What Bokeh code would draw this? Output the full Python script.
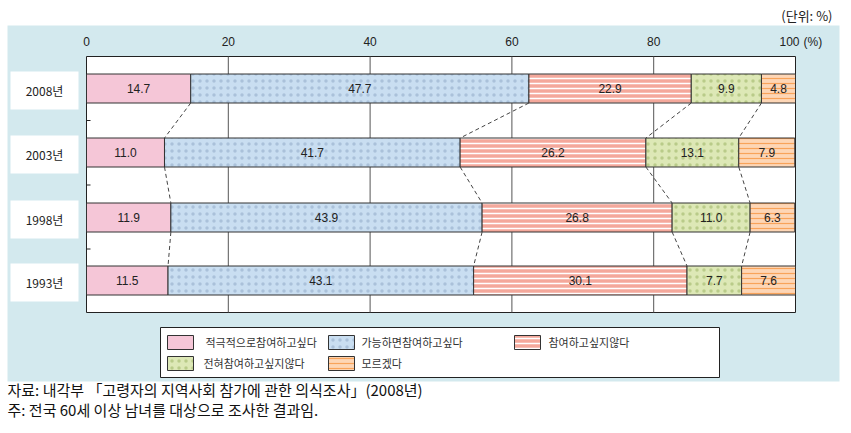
from bokeh.plotting import figure
from bokeh.models import Range1d, ColumnDataSource
from bokeh.core.properties import value
from bokeh.embed import file_html
from bokeh.resources import INLINE

# ---------------- data ----------------
years = ["2008년", "2003년", "1998년", "1993년"]
series_names = ["적극적으로참여하고싶다", "가능하면참여하고싶다", "참여하고싶지않다",
                "전혀참여하고싶지않다", "모르겠다"]
s_active = [14.7, 11.0, 11.9, 11.5]
s_possible = [47.7, 41.7, 43.9, 43.1]
s_not = [22.9, 26.2, 26.8, 30.1]
s_never = [9.9, 13.1, 11.0, 7.7]
s_unknown = [4.8, 7.9, 6.3, 7.6]
x_ticks = [0, 20, 40, 60, 80, 100]
unit_text = "(단위: %)"
notes = ["자료: 내각부 「고령자의 지역사회 참가에 관한 의식조사」(2008년)",
         "주: 전국 60세 이상 남녀를 대상으로 조사한 결과임."]

# ---------------- styles ----------------
W, H = 851, 433
X0_PX, X100_PX = 86, 795
SC = (X100_PX - X0_PX) / 100.0


def px2x(px):
    return (px - X0_PX) / SC


styles = [
    dict(fill_color="#F5C6D7"),
    dict(fill_color="#C9DEF1", hatch_pattern="dot", hatch_color="#8FAAC6", hatch_scale=7, hatch_weight=0.5, hatch_alpha=0.55),
    dict(fill_color="#F4A89B", hatch_pattern="horizontal_line", hatch_color="#FFFFFF", hatch_scale=5, hatch_weight=1.5),
    dict(fill_color="#DDE8B6", hatch_pattern="dot", hatch_color="#9BB265", hatch_scale=7, hatch_weight=0.5, hatch_alpha=0.55),
    dict(fill_color="#FDD6B6", hatch_pattern="horizontal_line", hatch_color="#F8A35A", hatch_scale=5, hatch_weight=1.2),
]

FONT = value("Noto Sans CJK KR")
NUMFONT = value("Liberation Sans")

p = figure(width=W, height=H, output_backend="svg", toolbar_location=None,
           x_range=Range1d(px2x(0), px2x(W)), y_range=Range1d(H, 0),
           min_border=0, min_border_left=0, min_border_right=0,
           min_border_top=0, min_border_bottom=0)
p.axis.visible = False
p.grid.visible = False
p.outline_line_color = None
p.background_fill_color = "white"
p.border_fill_color = "white"

# panel
p.quad(left=[px2x(7)], right=[px2x(839)], top=[25], bottom=[381],
       fill_color="#D3E9EE", line_color=None)

# plot area
TOP, BOT = 56, 312
p.quad(left=[0], right=[100], top=[TOP], bottom=[BOT], fill_color="white",
       line_color="#222222", line_width=1)
grid_x = [t for t in x_ticks if 0 < t < 100]
p.segment(x0=grid_x, x1=grid_x, y0=[TOP] * len(grid_x), y1=[BOT] * len(grid_x),
          line_color="#555555", line_width=1)

# rows
centers = [88, 152, 217, 280]
BH = 29
mids = [(centers[i] + centers[i + 1]) / 2 for i in range(len(centers) - 1)]
p.segment(x0=[0] * len(mids), x1=[px2x(X0_PX + 4)] * len(mids), y0=mids, y1=mids,
          line_color="#222222", line_width=1)

# tick labels on top
p.text(x=x_ticks[:-1], y=[41] * (len(x_ticks) - 1), text=[str(t) for t in x_ticks[:-1]],
       text_font=NUMFONT, text_font_size="12px", text_align="center",
       text_baseline="middle", text_color="#222222")
p.text(x=[x_ticks[-1]], y=[41], text=[str(x_ticks[-1])], x_offset=-6,
       text_font=NUMFONT, text_font_size="12px", text_align="center",
       text_baseline="middle", text_color="#222222")
p.text(x=[x_ticks[-1]], y=[41], text=["(%)"], x_offset=8,
       text_font=NUMFONT, text_font_size="12px", text_align="left",
       text_baseline="middle", text_color="#222222")

# unit
p.text(x=[px2x(832)], y=[15], text=[unit_text], text_font=FONT, text_font_size="13px",
       text_align="right", text_baseline="middle", text_color="#222222")

# category label boxes
p.quad(left=[px2x(10)] * 4, right=[px2x(78)] * 4, top=[c - 17 for c in centers],
       bottom=[c + 21 for c in centers], fill_color="white", line_color=None)
p.text(x=[px2x(44)] * 4, y=[c + 2 for c in centers], text=years, text_font=FONT,
       text_font_size="12px", text_align="center", text_baseline="middle",
       text_color="#222222")

# stacked bars
series = [s_active, s_possible, s_not, s_never, s_unknown]
cum = [[0.0] * len(years)]
for s in series:
    cum.append([a + b for a, b in zip(cum[-1], s)])

for k, s in enumerate(series):
    src = ColumnDataSource(dict(left=cum[k], right=cum[k + 1],
                                top=[c - BH / 2 for c in centers],
                                bottom=[c + BH / 2 for c in centers],
                                xm=[(a + b) / 2 for a, b in zip(cum[k], cum[k + 1])],
                                y=centers, lab=[f"{v:.1f}" for v in s]))
    p.quad(left="left", right="right", top="top", bottom="bottom", source=src,
           line_color="#333333", line_width=1, **styles[k])
    p.text(x="xm", y="y", text="lab", source=src, text_font=NUMFONT,
           text_font_size="12px", text_align="center", text_baseline="middle",
           text_color="#222222")

# connectors
for k in range(1, len(series)):
    xs0, xs1, ys0, ys1 = [], [], [], []
    for i in range(len(years) - 1):
        xs0.append(cum[k][i])
        xs1.append(cum[k][i + 1])
        ys0.append(centers[i] + BH / 2)
        ys1.append(centers[i + 1] - BH / 2)
    p.segment(x0=xs0, x1=xs1, y0=ys0, y1=ys1, line_color="#444444",
              line_width=1, line_dash="4 3")

# legend
p.quad(left=[px2x(160)], right=[px2x(719)], top=[327], bottom=[377],
       fill_color="white", line_color="#222222", line_width=1)
leg_sw_x = [167, 328, 514, 167, 328]
leg_txt_x = [205, 361, 548, 203, 361]
leg_y = [342, 342, 342, 363, 363]
for k in range(len(series_names)):
    p.quad(left=[px2x(leg_sw_x[k])], right=[px2x(leg_sw_x[k] + 26)],
           top=[leg_y[k] - 7], bottom=[leg_y[k] + 7],
           line_color="#333333", line_width=1, **styles[k])
    p.text(x=[px2x(leg_txt_x[k])], y=[leg_y[k] - 1], text=[series_names[k]],
           text_font=FONT, text_font_size="11px", text_align="left",
           text_baseline="middle", text_color="#333333")

# notes
p.text(x=[px2x(7)] * 2, y=[389, 409], text=notes, text_font=FONT,
       text_font_size="15px", text_align="left", text_baseline="middle",
       text_color="#111111")

open("out.html", "w").write(file_html(p, INLINE))
